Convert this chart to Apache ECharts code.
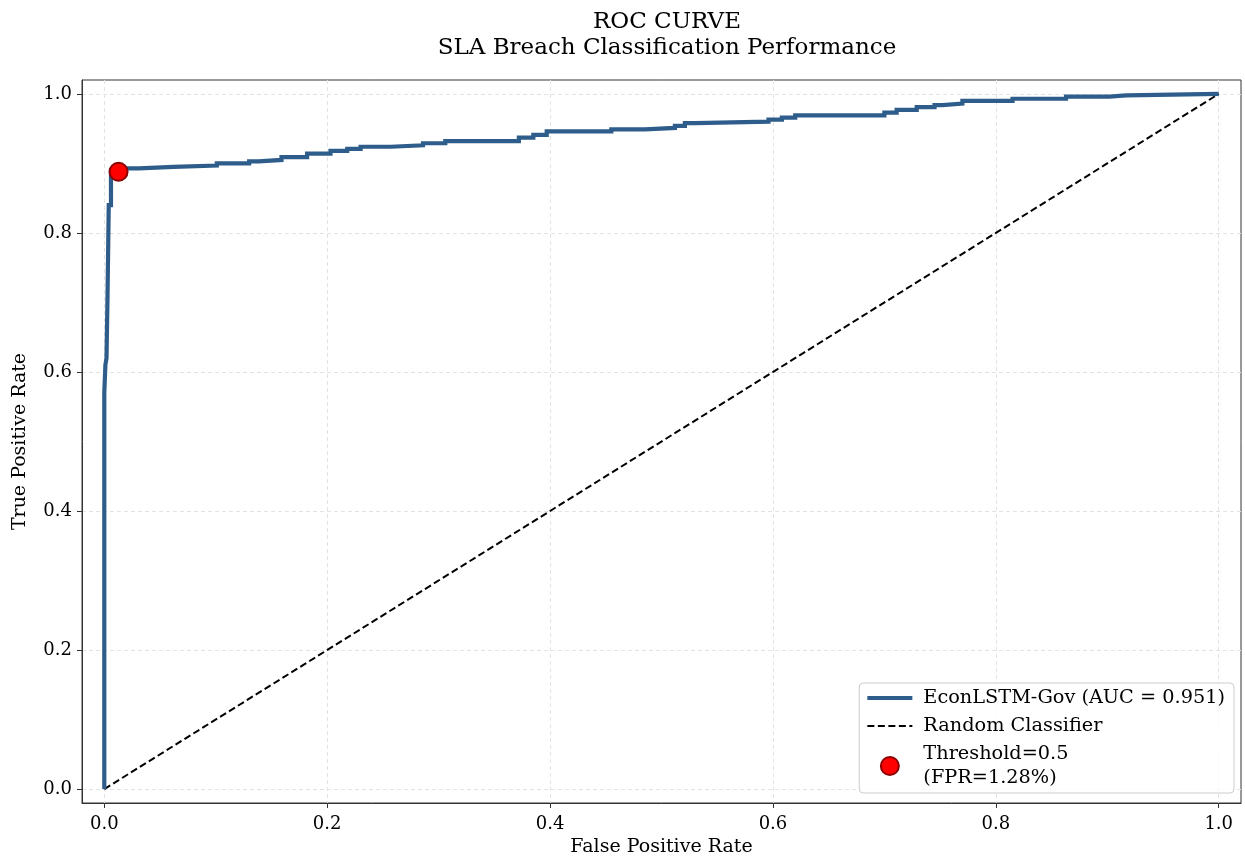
<!DOCTYPE html>
<html>
<head>
<meta charset="utf-8">
<script src="https://cdn.jsdelivr.net/npm/echarts@6/dist/echarts.min.js"></script>
<style>
  html, body { margin: 0; padding: 0; background: #fff; }
  #main { width: 1245px; height: 856px; }
</style>
</head>
<body>
<div id="main"></div>
<script>
// ROC curve: at each fpr the curve steps up to tpr
const rocFpr = [0, 0, 0.001, 0.002, 0.003, 0.004, 0.006, 0.0128, 0.031, 0.062, 0.101, 0.130, 0.1385,
  0.159, 0.182, 0.203, 0.218, 0.230, 0.257, 0.286, 0.306, 0.372, 0.385, 0.397, 0.455, 0.485, 0.512,
  0.521, 0.530, 0.596, 0.608, 0.620, 0.700, 0.711, 0.729, 0.745, 0.752, 0.770, 0.815, 0.863, 0.902,
  0.917, 1.0];
const rocTpr = [0, 0.57, 0.61, 0.62, 0.72, 0.84, 0.89, 0.893, 0.895, 0.897, 0.900, 0.903, 0.905,
  0.909, 0.914, 0.918, 0.921, 0.924, 0.926, 0.929, 0.932, 0.937, 0.941, 0.946, 0.949, 0.951, 0.954,
  0.958, 0.960, 0.963, 0.966, 0.969, 0.973, 0.977, 0.981, 0.984, 0.986, 0.990, 0.993, 0.996, 0.998,
  1.0, 1.0];
const randomFpr = [0, 1];
const randomTpr = [0, 1];
const thresholdPoint = [0.0128, 0.888];
const tickValues = [0, 0.2, 0.4, 0.6, 0.8, 1.0];

const seriesNames = ['EconLSTM-Gov (AUC = 0.951)', 'Random Classifier', 'Threshold=0.5\n(FPR=1.28%)'];

const font = 'DejaVu Serif';
const blue = '#2e5d8b';

// corners of the staircase: go across first, then up
var rocPoints = [[rocFpr[0], rocTpr[0]]];
for (var i = 1; i < rocFpr.length; i++) {
  rocPoints.push([rocFpr[i], rocTpr[i - 1]]);
  rocPoints.push([rocFpr[i], rocTpr[i]]);
}

var chart = echarts.init(document.getElementById('main'));

var axisCommon = {
  type: 'value',
  min: -0.02,
  max: 1.02,
  nameLocation: 'middle',
  nameTextStyle: { fontFamily: font, fontSize: 19, color: '#000' },
  axisLine: { show: true, onZero: false, lineStyle: { color: '#333' } },
  axisTick: { show: true, length: 5, inside: false, customValues: tickValues, lineStyle: { color: '#333' } },
  splitLine: { show: true, lineStyle: { color: '#e3e3e3', type: [4, 3] } }
};

var option = {
  animation: false,
  backgroundColor: '#fff',
  textStyle: { fontFamily: font },
  title: {
    text: 'ROC CURVE\nSLA Breach Classification Performance',
    left: 662,
    top: 4,
    textAlign: 'center',
    textStyle: { fontFamily: font, fontSize: 23, fontWeight: 'normal', color: '#000', lineHeight: 26 }
  },
  grid: {
    left: 82, right: 4, top: 80, bottom: 53,
    outerBoundsMode: 'none',
    containLabel: false,
    show: true, borderColor: '#333', borderWidth: 1
  },
  legend: {
    orient: 'vertical',
    right: 11,
    bottom: 63,
    itemWidth: 45,
    itemHeight: 18,
    itemGap: 4,
    padding: [3, 9, 3, 6],
    borderColor: '#ccc',
    borderWidth: 1,
    borderRadius: 4,
    backgroundColor: 'rgba(255,255,255,0.8)',
    selectedMode: false,
    textStyle: { fontFamily: font, fontSize: 19.3, color: '#000', lineHeight: 24, padding: [0, 0, 0, 6] },
    data: [
      { name: seriesNames[0], itemStyle: { color: 'rgba(0,0,0,0)', borderWidth: 0 }, lineStyle: { width: 4.2 } },
      { name: seriesNames[1], itemStyle: { color: 'rgba(0,0,0,0)', borderWidth: 0 }, lineStyle: { width: 2 } },
      { name: seriesNames[2] }
    ]
  },
  xAxis: Object.assign({}, axisCommon, {
    name: 'False Positive Rate',
    nameGap: 35,
    axisLabel: {
      customValues: tickValues, margin: 12, fontFamily: font, fontSize: 18, color: '#000',
      formatter: v => v.toFixed(1)
    }
  }),
  yAxis: Object.assign({}, axisCommon, {
    name: 'True Positive Rate',
    nameGap: 52,
    nameRotate: 90,
    axisLabel: {
      customValues: tickValues, margin: 10, fontFamily: font, fontSize: 18, color: '#000',
      formatter: v => v.toFixed(1)
    }
  }),
  series: [
    {
      name: seriesNames[0],
      type: 'line',
      showSymbol: false,
      symbol: 'none',
      z: 3,
      lineStyle: { color: blue, width: 4.2, join: 'miter' },
      itemStyle: { color: blue },
      data: rocPoints
    },
    {
      name: seriesNames[1],
      type: 'line',
      showSymbol: false,
      symbol: 'none',
      z: 2,
      lineStyle: { color: '#000', width: 2, type: [7, 3.5] },
      itemStyle: { color: '#000' },
      data: randomFpr.map((x, i) => [x, randomTpr[i]])
    },
    {
      name: seriesNames[2],
      type: 'scatter',
      symbolSize: 18,
      z: 5,
      itemStyle: { color: '#ff0000', borderColor: '#8b0000', borderWidth: 2, opacity: 1 },
      data: [thresholdPoint]
    }
  ]
};

chart.setOption(option);
</script>
</body>
</html>
